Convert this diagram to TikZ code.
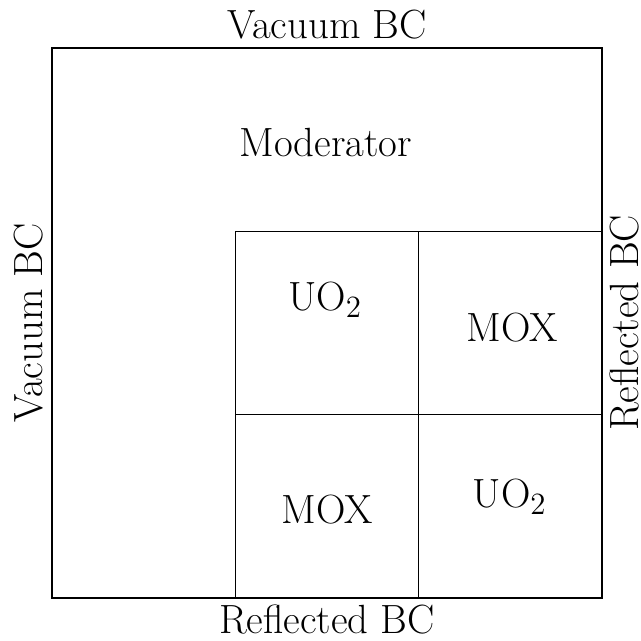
\documentclass[tikz,border=0pt]{standalone}
\begin{document}
\begin{tikzpicture}[
  lbl/.style={font=\fontsize{19}{23}\selectfont, inner sep=0pt},
  region/.style={draw=black, line width=0.5pt}
]
\useasboundingbox (-0.851,-0.704) rectangle (9.638,9.785);
% outer domain and fuel assemblies
\coordinate (o1) at (0,0);
\coordinate (o2) at (9,9);
\draw[region] (o1) -- (0,9) -- (o2) -- (9,0) -- cycle;
\draw[region] (3,0) -- (3,6) -- (9,6);
\draw[region] (6,0) -- (6,6);
\draw[region] (3,3) -- (9,3);
% region labels
\node[lbl] (mod) at (4.48,7.46) {Moderator};
\node[lbl] (uoa) at (4.47,4.88) {UO$_2$};
\node[lbl] (moxa) at (7.53,4.42) {MOX};
\node[lbl] (moxb) at (4.50,1.44) {MOX};
\node[lbl] (uob) at (7.49,1.65) {UO$_2$};
% boundary conditions
\node[lbl] (top) at (4.5,9.376) {Vacuum BC};
\node[lbl] (bot) at (4.5,-0.36) {Reflected BC};
\node[lbl, rotate=90] (left) at (-0.39,4.5) {Vacuum BC};
\node[lbl, rotate=90] (right) at (9.37,4.5) {Reflected BC};
\end{tikzpicture}
\end{document}
